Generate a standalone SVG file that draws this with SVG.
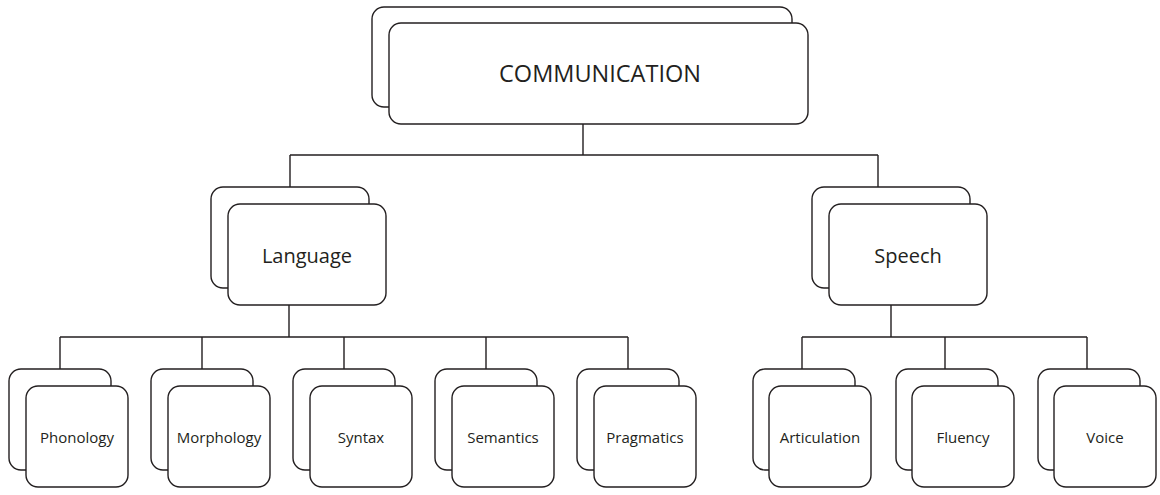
<svg xmlns="http://www.w3.org/2000/svg" width="1160" height="495" viewBox="0 0 1160 495">
  <style>
    .card { fill: #ffffff; stroke: #231f20; stroke-width: 1.4; }
    .wire { fill: none; stroke: #231f20; stroke-width: 1.4; }
    .lbl { font-family: "Open Sans", "Noto Sans", sans-serif; fill: #231f20; text-anchor: middle; dominant-baseline: central; }
    .big { font-size: 23.5px; }
    .mid { font-size: 20px; }
    .small { font-size: 15px; }
  </style>

  <g id="connectors">
    <path class="wire" d="M583,124 V155 M290,155 H878 M290,155 V187 M878,155 V187"/>
    <path class="wire" d="M289,305 V337 M60,337 H628 M60,337 V369 M202,337 V369 M344,337 V369 M486,337 V369 M628,337 V369"/>
    <path class="wire" d="M891,305 V337 M802,337 H1087 M802,337 V369 M945,337 V369 M1087,337 V369"/>
  </g>

  <g id="communication">
    <rect class="card" x="372" y="7" width="420" height="100" rx="12"/>
    <rect class="card" x="389" y="23" width="419" height="101" rx="12"/>
    <text class="lbl big" x="600" y="73">COMMUNICATION</text>
  </g>

  <g id="language">
    <rect class="card" x="211" y="187" width="158" height="101" rx="12"/>
    <rect class="card" x="228" y="204" width="158" height="101" rx="12"/>
    <text class="lbl mid" x="307" y="255">Language</text>
  </g>

  <g id="speech">
    <rect class="card" x="812" y="187" width="158" height="101" rx="12"/>
    <rect class="card" x="829" y="204" width="158" height="101" rx="12"/>
    <text class="lbl mid" x="908" y="255">Speech</text>
  </g>

  <g id="phonology">
    <rect class="card" x="9" y="369" width="102" height="101" rx="12"/>
    <rect class="card" x="26" y="386" width="102" height="101" rx="12"/>
    <text class="lbl small" x="77" y="437">Phonology</text>
  </g>

  <g id="morphology">
    <rect class="card" x="151" y="369" width="102" height="101" rx="12"/>
    <rect class="card" x="168" y="386" width="102" height="101" rx="12"/>
    <text class="lbl small" x="219" y="437">Morphology</text>
  </g>

  <g id="syntax">
    <rect class="card" x="293" y="369" width="102" height="101" rx="12"/>
    <rect class="card" x="310" y="386" width="102" height="101" rx="12"/>
    <text class="lbl small" x="361" y="437">Syntax</text>
  </g>

  <g id="semantics">
    <rect class="card" x="435" y="369" width="102" height="101" rx="12"/>
    <rect class="card" x="452" y="386" width="102" height="101" rx="12"/>
    <text class="lbl small" x="503" y="437">Semantics</text>
  </g>

  <g id="pragmatics">
    <rect class="card" x="577" y="369" width="102" height="101" rx="12"/>
    <rect class="card" x="594" y="386" width="102" height="101" rx="12"/>
    <text class="lbl small" x="645" y="437">Pragmatics</text>
  </g>

  <g id="articulation">
    <rect class="card" x="753" y="369" width="102" height="101" rx="12"/>
    <rect class="card" x="769" y="386" width="102" height="101" rx="12"/>
    <text class="lbl small" x="820" y="437">Articulation</text>
  </g>

  <g id="fluency">
    <rect class="card" x="896" y="369" width="102" height="101" rx="12"/>
    <rect class="card" x="912" y="386" width="102" height="101" rx="12"/>
    <text class="lbl small" x="963" y="437">Fluency</text>
  </g>

  <g id="voice">
    <rect class="card" x="1038" y="369" width="102" height="101" rx="12"/>
    <rect class="card" x="1054" y="386" width="102" height="101" rx="12"/>
    <text class="lbl small" x="1105" y="437">Voice</text>
  </g>
</svg>
